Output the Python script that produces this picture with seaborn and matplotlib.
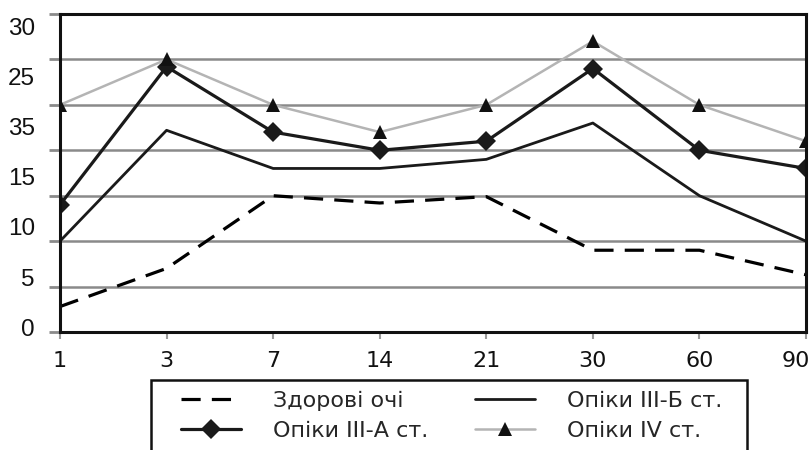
import matplotlib
matplotlib.use("Agg")
import matplotlib.pyplot as plt
import matplotlib.transforms as mtransforms
from matplotlib.patches import Rectangle
import numpy as np
import pandas as pd
import seaborn as sns

sns.set_theme(style="white")
plt.rcParams['font.family'] = ['Liberation Sans', 'DejaVu Sans']

# days after the burn (categorical x axis)
days = ["1", "3", "7", "14", "21", "30", "60", "90"]

healthy = [2.8, 7.0, 15.0, 14.2, 14.9, 9.0, 9.0, 6.3]
burn_3b = [10.0, 22.2, 18.0, 18.0, 19.0, 23.0, 15.0, 10.0]
burn_3a = [14.0, 29.2, 22.0, 20.0, 21.0, 29.0, 20.0, 18.0]
burn_4 = [25.0, 30.0, 25.0, 22.0, 25.0, 32.0, 25.0, 21.0]

names = ["Здорові очі", "Опіки III-Б ст.", "Опіки III-А ст.", "Опіки IV ст."]

# y tick labels as printed in the source (including the odd "35")
ytick_labels = ["0", "5", "10", "15", "35", "25", "30"]
ytick_pos = [0.55, 6.05, 11.6, 17.1, 22.6, 28.1, 33.6]

df = pd.DataFrame({"pos": np.arange(len(days)),
                   names[0]: healthy, names[1]: burn_3b,
                   names[2]: burn_3a, names[3]: burn_4})

wide = ['DejaVu Sans']  # the source text is set rather wide

fig = plt.figure(figsize=(8.12, 4.5), dpi=100)
W, H = 812, 450
ax = fig.add_axes([60 / W, (H - 332) / H, (806 - 60) / W, (332 - 14) / H])

sns.lineplot(data=df, x="pos", y=names[0], ax=ax, color="black",
             linewidth=2.3, linestyle=(0, (6, 3.5)), label=names[0])
sns.lineplot(data=df, x="pos", y=names[1], ax=ax, color="#1a1a1a",
             linewidth=2.0, label=names[1])
sns.lineplot(data=df, x="pos", y=names[2], ax=ax, color="#1a1a1a",
             linewidth=2.3, marker="D", markersize=10, markeredgewidth=0,
             label=names[2])
sns.lineplot(data=df, x="pos", y=names[3], ax=ax, color="#b4b4b4",
             linewidth=1.8, marker="^", markersize=9.5, markerfacecolor="#111111",
             markeredgewidth=0, label=names[3])

ax.set_xlim(0, len(days) - 1)
ax.set_ylim(0, 35)
ax.set_xlabel("")
ax.set_ylabel("")

ax.set_xticks(np.arange(len(days)))
ax.set_xticklabels(days, fontsize=16, family=wide)
ax.tick_params(axis="x", length=5, width=1.5, color="#999999", pad=9,
               bottom=True, labelcolor="#111111")
# the last label sits a little inside the frame
last = ax.get_xticklabels()[-1]
last.set_transform(last.get_transform() +
                   mtransforms.ScaledTranslation(-10 / 100, 0, fig.dpi_scale_trans))

ax.set_yticks(np.arange(0, 36, 5))
ax.set_yticklabels([])
ax.tick_params(axis="y", which="major", length=8, width=2, color="#8a8a8a", left=True)
ax.set_yticks(ytick_pos, minor=True)
ax.set_yticklabels(ytick_labels, minor=True, fontsize=17.5)
ax.tick_params(axis="y", which="minor", length=0, pad=18, labelcolor="#111111")

ax.grid(axis="y", which="major", color="#8a8a8a", linewidth=1.8)
ax.grid(axis="x", visible=False)
ax.set_axisbelow(True)

for s in ax.spines.values():
    s.set_color("#111111")
    s.set_linewidth(2.2)
    s.set_visible(True)

# legend: two columns, frame drawn by hand so it runs off the bottom edge
handles, labels = ax.get_legend_handles_labels()
order = [0, 2, 1, 3]
fig.legend([handles[i] for i in order], [labels[i] for i in order],
           ncol=2, loc="upper left", bbox_to_anchor=(165 / W, (H - 375) / H),
           frameon=False, prop={'family': wide, 'size': 16},
           handlelength=2.7, handletextpad=1.45,
           columnspacing=2.1, labelspacing=0.45, borderpad=0.2)
ax.get_legend().remove()
fig.patches.append(Rectangle((151 / W, -0.05), (747 - 151) / W, (H - 380) / H + 0.05,
                             transform=fig.transFigure, fill=False,
                             edgecolor="#111111", linewidth=1.8))

fig.savefig("out.png", dpi=100, facecolor="white")
